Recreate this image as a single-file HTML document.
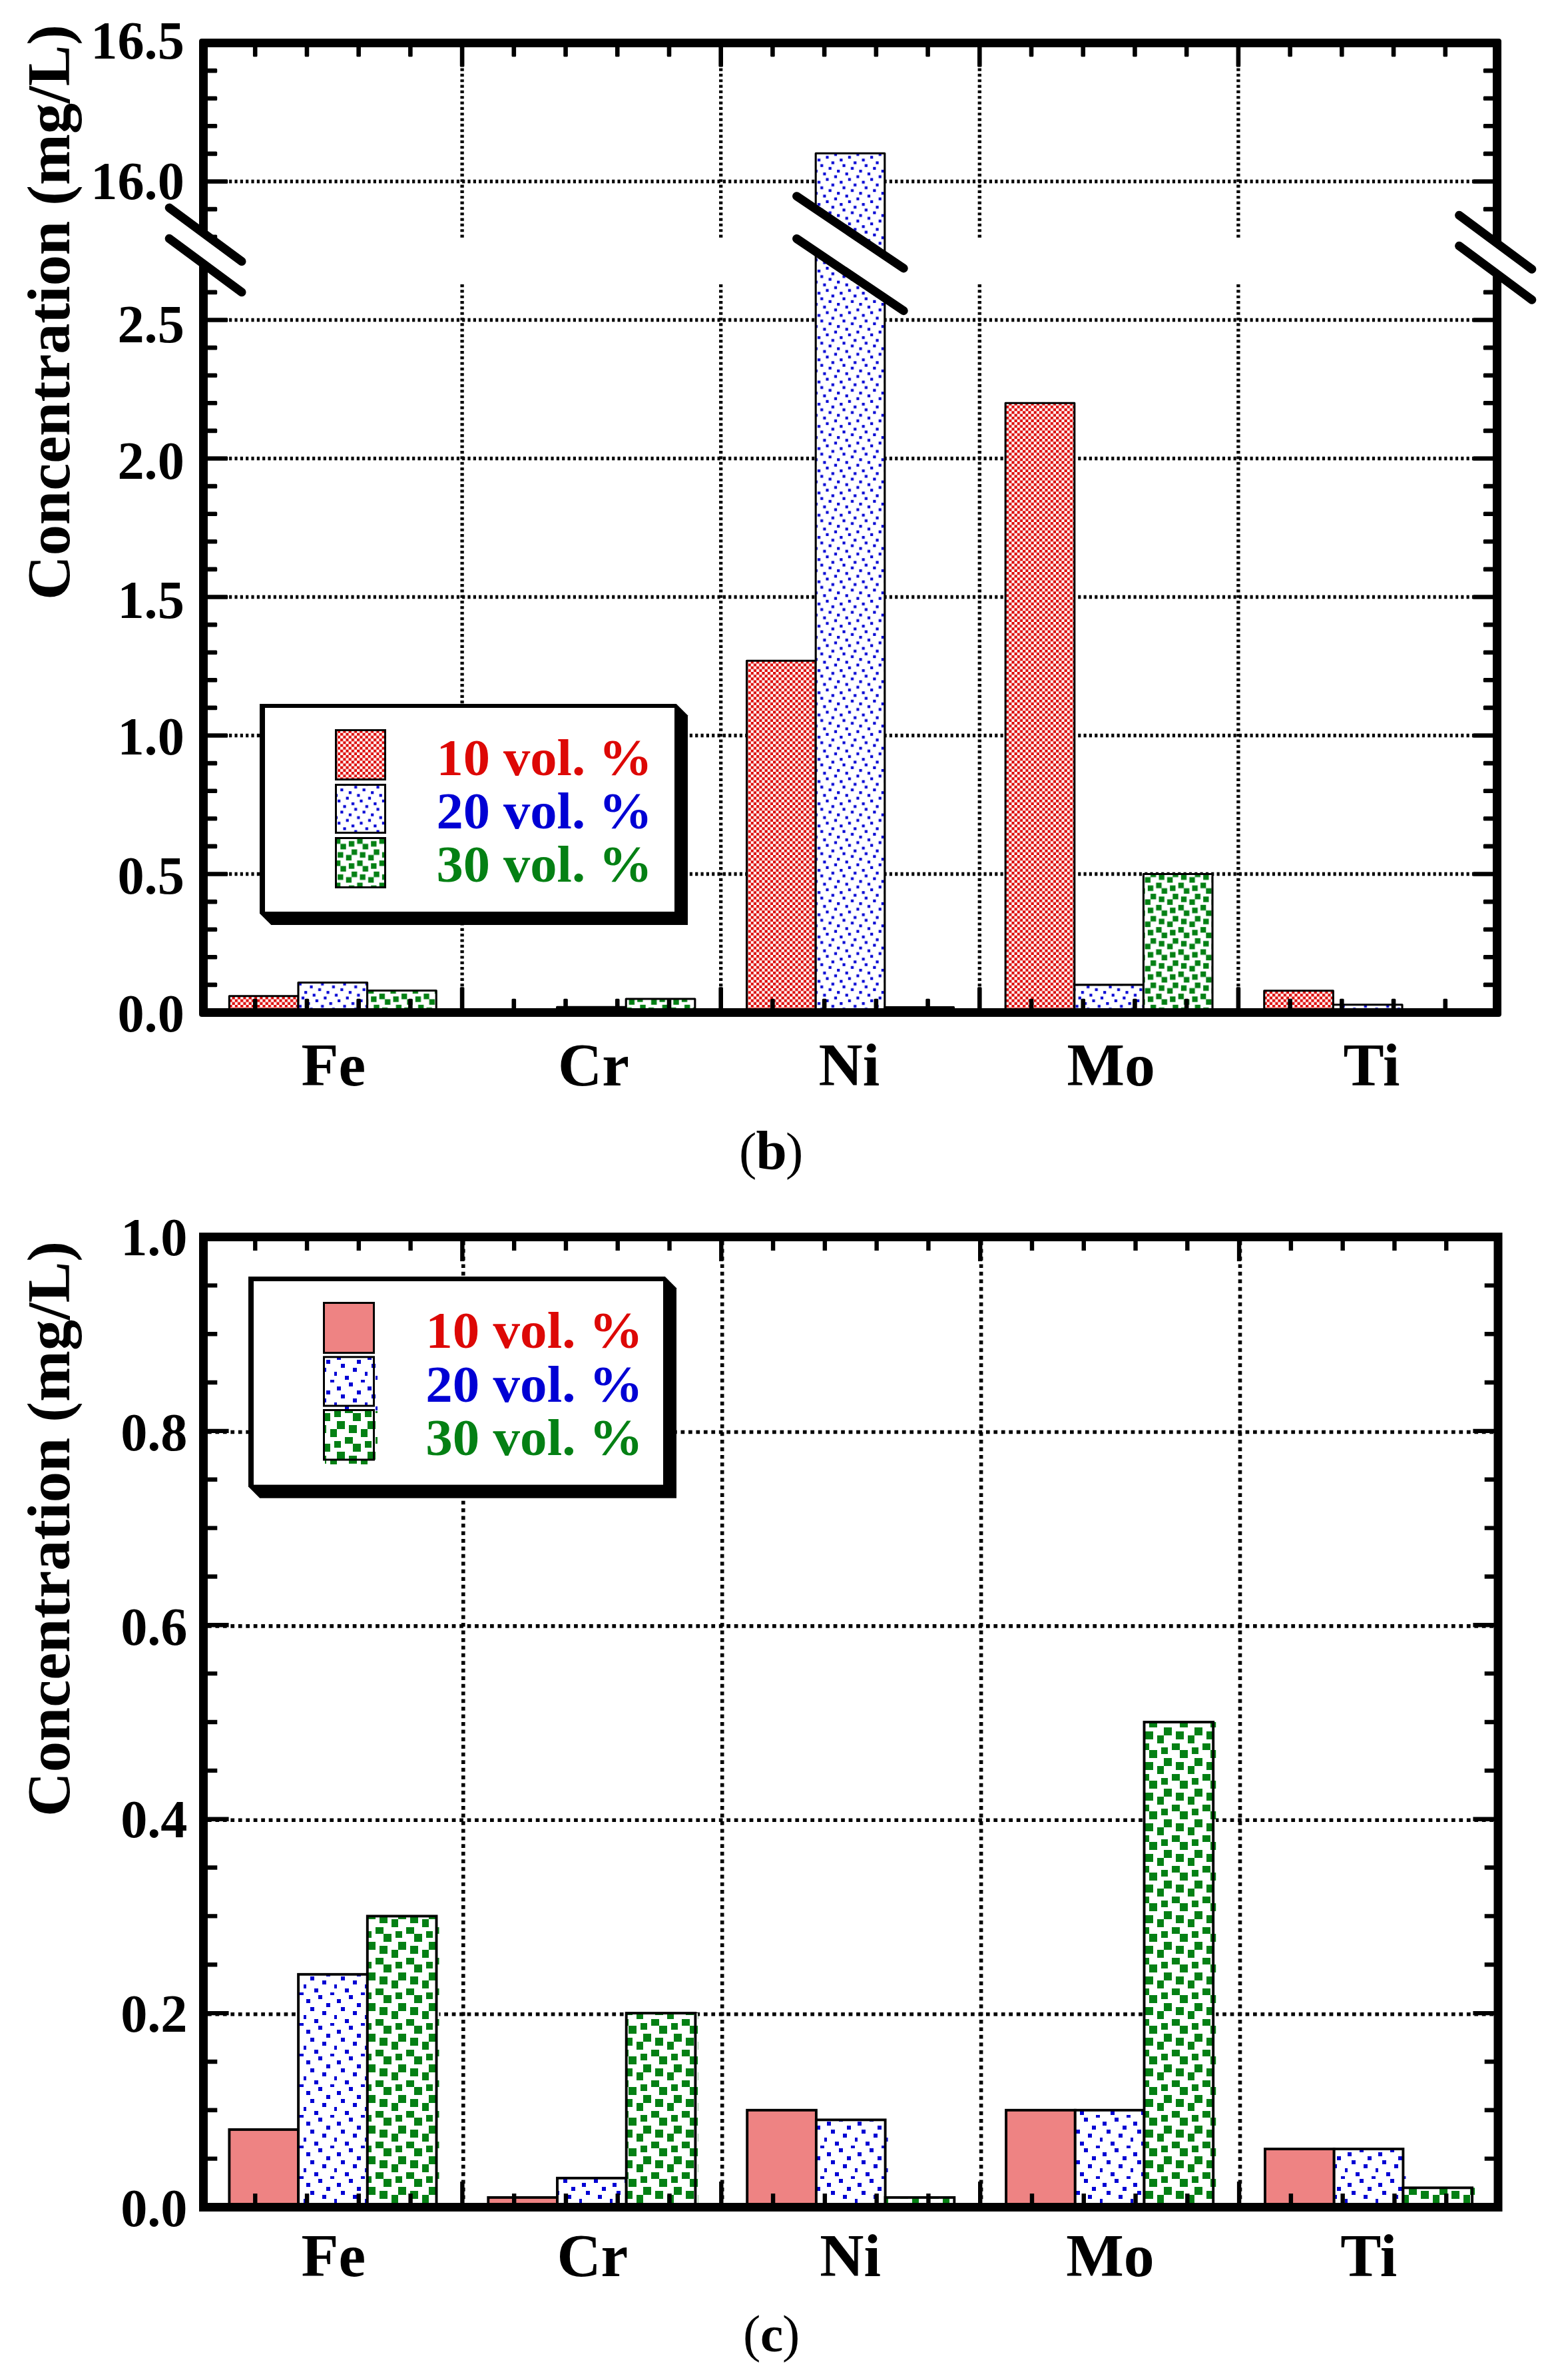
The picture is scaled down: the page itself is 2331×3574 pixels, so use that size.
<!DOCTYPE html>
<html lang="en"><head><meta charset="utf-8"><title>Concentration charts (b) and (c)</title>
<style>
html,body{margin:0;padding:0;background:#fff}
svg{display:block}
text{font-family:"Liberation Serif","DejaVu Serif",serif;font-weight:bold}
text.cap{font-weight:normal}
text.cap tspan{font-weight:bold}
text.cap tspan.p{font-weight:normal}
</style></head>
<body>
<svg width="2331" height="3574" viewBox="0 0 2331 3574">
<rect width="2331" height="3574" fill="#fff"/>
<defs>
<pattern id="pr" patternUnits="userSpaceOnUse" width="8.333" height="8.333" x="2.8" y="0.7"><rect width="8.333" height="8.333" fill="#fff"/><rect width="4.167" height="4.167" fill="#DD0806"/><rect x="4.167" y="4.167" width="4.167" height="4.167" fill="#DD0806"/></pattern>
<pattern id="pb" patternUnits="userSpaceOnUse" width="33.333" height="33.333" x="23.8" y="4.9"><rect width="33.333" height="33.333" fill="#fff"/><rect x="4.167" y="0" width="4.167" height="4.167" fill="#0000D4"/><rect x="25" y="4.167" width="4.167" height="4.167" fill="#0000D4"/><rect x="8.333" y="8.333" width="4.167" height="4.167" fill="#0000D4"/><rect x="20.833" y="12.5" width="4.167" height="4.167" fill="#0000D4"/><rect x="0" y="16.667" width="4.167" height="4.167" fill="#0000D4"/><rect x="12.5" y="20.833" width="4.167" height="4.167" fill="#0000D4"/><rect x="29.167" y="25" width="4.167" height="4.167" fill="#0000D4"/><rect x="16.667" y="29.167" width="4.167" height="4.167" fill="#0000D4"/></pattern>
<pattern id="pg" patternUnits="userSpaceOnUse" width="33.333" height="33.333" x="7.2" y="25.5"><rect width="33.333" height="33.333" fill="#fff"/><rect x="0" y="20.833" width="8.333" height="8.333" fill="#048014"/><rect x="4.167" y="8.333" width="8.333" height="8.333" fill="#048014"/><rect x="12.5" y="25" width="8.333" height="8.333" fill="#048014"/><rect x="16.667" y="4.167" width="8.333" height="8.333" fill="#048014"/><rect x="20.833" y="16.667" width="8.333" height="8.333" fill="#048014"/><rect x="29.167" y="0" width="8.333" height="8.333" fill="#048014"/><rect x="-4.167" y="0" width="8.333" height="8.333" fill="#048014"/></pattern>
<pattern id="qb" patternUnits="userSpaceOnUse" width="46" height="46" x="0" y="-4"><rect width="46" height="46" fill="#fff"/><rect x="12" y="0" width="6" height="6" fill="#0000D4"/><rect x="36" y="6" width="6" height="4" fill="#0000D4"/><rect x="18" y="10" width="6" height="6" fill="#0000D4"/><rect x="0" y="16" width="6" height="6" fill="#0000D4"/><rect x="30" y="22" width="6" height="6" fill="#0000D4"/><rect x="6" y="28" width="6" height="6" fill="#0000D4"/><rect x="24" y="34" width="6" height="6" fill="#0000D4"/><rect x="42" y="40" width="4" height="6" fill="#0000D4"/></pattern>
<pattern id="qg" patternUnits="userSpaceOnUse" width="46" height="46" x="0" y="-4"><rect width="46" height="46" fill="#fff"/><rect x="12" y="0" width="6" height="6" fill="#048014"/><rect x="12" y="6" width="6" height="4" fill="#048014"/><rect x="18" y="0" width="6" height="6" fill="#048014"/><rect x="18" y="6" width="6" height="4" fill="#048014"/><rect x="42" y="6" width="4" height="4" fill="#048014"/><rect x="42" y="10" width="4" height="6" fill="#048014"/><rect x="0" y="6" width="6" height="4" fill="#048014"/><rect x="0" y="10" width="6" height="6" fill="#048014"/><rect x="24" y="10" width="6" height="6" fill="#048014"/><rect x="24" y="16" width="6" height="6" fill="#048014"/><rect x="30" y="10" width="6" height="6" fill="#048014"/><rect x="30" y="16" width="6" height="6" fill="#048014"/><rect x="0" y="22" width="6" height="6" fill="#048014"/><rect x="0" y="28" width="6" height="6" fill="#048014"/><rect x="6" y="22" width="6" height="6" fill="#048014"/><rect x="6" y="28" width="6" height="6" fill="#048014"/><rect x="18" y="28" width="6" height="6" fill="#048014"/><rect x="18" y="34" width="6" height="6" fill="#048014"/><rect x="24" y="28" width="6" height="6" fill="#048014"/><rect x="24" y="34" width="6" height="6" fill="#048014"/><rect x="36" y="34" width="6" height="6" fill="#048014"/><rect x="36" y="40" width="6" height="6" fill="#048014"/><rect x="42" y="34" width="4" height="6" fill="#048014"/><rect x="42" y="40" width="4" height="6" fill="#048014"/></pattern>
</defs>
<g id="chart-b">
<g stroke="#000" stroke-width="5.3" stroke-dasharray="4.167 4.167" fill="none">
<path d="M344.1 272.5H2212"/>
<path d="M344.1 480.5H2212"/>
<path d="M344.1 688.5H2212"/>
<path d="M344.1 896.5H2212"/>
<path d="M344.1 1104.5H2212"/>
<path d="M344.1 1312.5H2212"/>
<path d="M694.1 102.5V357"/><path d="M694.1 427V1484"/>
<path d="M1082.7 102.5V357"/><path d="M1082.7 427V1484"/>
<path d="M1471.3 102.5V357"/><path d="M1471.3 427V1484"/>
<path d="M1859.9 102.5V357"/><path d="M1859.9 427V1484"/>
</g>
<g stroke="#000" stroke-width="3.1" stroke-linejoin="round">
<rect x="344.36" y="1495.7" width="103.627" height="24.8" fill="url(#pr)"/>
<rect x="447.987" y="1475.5" width="103.627" height="45" fill="url(#pb)"/>
<rect x="551.613" y="1487.5" width="103.627" height="33" fill="url(#pg)"/>
<rect x="836.587" y="1512.4" width="103.627" height="8.1" fill="url(#pb)"/>
<rect x="940.213" y="1500" width="103.627" height="20.5" fill="url(#pg)"/>
<rect x="1121.56" y="992.18" width="103.627" height="528.32" fill="url(#pr)"/>
<rect x="1225.187" y="230.3" width="103.627" height="1290.2" fill="url(#pb)"/>
<rect x="1328.813" y="1512.5" width="103.627" height="8" fill="url(#pg)"/>
<rect x="1510.16" y="605.3" width="103.627" height="915.2" fill="url(#pr)"/>
<rect x="1613.787" y="1478.9" width="103.627" height="41.6" fill="url(#pb)"/>
<rect x="1717.413" y="1312.5" width="103.627" height="208" fill="url(#pg)"/>
<rect x="1898.76" y="1487.8" width="103.627" height="32.7" fill="url(#pr)"/>
<rect x="2002.387" y="1508.8" width="103.627" height="11.7" fill="url(#pb)"/>
</g>
<path fill="#000" fill-rule="evenodd" d="M303 58H2251A4 4 0 0 1 2255 62V1523A4 4 0 0 1 2251 1527H303A4 4 0 0 1 299 1523V62A4 4 0 0 1 303 58ZM312 71H2242V1514H312Z"/>
<path d="M381.42 70.5H385.02V83.7H381.42ZM381.42 1501.3H385.02V1514.5H381.42ZM459.14 70.5H462.74V83.7H459.14ZM459.14 1501.3H462.74V1514.5H459.14ZM536.86 70.5H540.46V83.7H536.86ZM536.86 1501.3H540.46V1514.5H536.86ZM614.58 70.5H618.18V83.7H614.58ZM614.58 1501.3H618.18V1514.5H614.58ZM692.3 70.5H695.9V99.1H692.3ZM692.3 1483.7H695.9V1514.5H692.3ZM770.02 70.5H773.62V83.7H770.02ZM770.02 1501.3H773.62V1514.5H770.02ZM847.74 70.5H851.34V83.7H847.74ZM847.74 1501.3H851.34V1514.5H847.74ZM925.46 70.5H929.06V83.7H925.46ZM925.46 1501.3H929.06V1514.5H925.46ZM1003.18 70.5H1006.78V83.7H1003.18ZM1003.18 1501.3H1006.78V1514.5H1003.18ZM1080.9 70.5H1084.5V99.1H1080.9ZM1080.9 1483.7H1084.5V1514.5H1080.9ZM1158.62 70.5H1162.22V83.7H1158.62ZM1158.62 1501.3H1162.22V1514.5H1158.62ZM1236.34 70.5H1239.94V83.7H1236.34ZM1236.34 1501.3H1239.94V1514.5H1236.34ZM1314.06 70.5H1317.66V83.7H1314.06ZM1314.06 1501.3H1317.66V1514.5H1314.06ZM1391.78 70.5H1395.38V83.7H1391.78ZM1391.78 1501.3H1395.38V1514.5H1391.78ZM1469.5 70.5H1473.1V99.1H1469.5ZM1469.5 1483.7H1473.1V1514.5H1469.5ZM1547.22 70.5H1550.82V83.7H1547.22ZM1547.22 1501.3H1550.82V1514.5H1547.22ZM1624.94 70.5H1628.54V83.7H1624.94ZM1624.94 1501.3H1628.54V1514.5H1624.94ZM1702.66 70.5H1706.26V83.7H1702.66ZM1702.66 1501.3H1706.26V1514.5H1702.66ZM1780.38 70.5H1783.98V83.7H1780.38ZM1780.38 1501.3H1783.98V1514.5H1780.38ZM1858.1 70.5H1861.7V99.1H1858.1ZM1858.1 1483.7H1861.7V1514.5H1858.1ZM1935.82 70.5H1939.42V83.7H1935.82ZM1935.82 1501.3H1939.42V1514.5H1935.82ZM2013.54 70.5H2017.14V83.7H2013.54ZM2013.54 1501.3H2017.14V1514.5H2013.54ZM2091.26 70.5H2094.86V83.7H2091.26ZM2091.26 1501.3H2094.86V1514.5H2091.26ZM2168.98 70.5H2172.58V83.7H2168.98ZM2168.98 1501.3H2172.58V1514.5H2168.98ZM311.5 104.3H324.7V107.9H311.5ZM2229.3 104.3H2242.5V107.9H2229.3ZM311.5 145.9H324.7V149.5H311.5ZM2229.3 145.9H2242.5V149.5H2229.3ZM311.5 187.5H324.7V191.1H311.5ZM2229.3 187.5H2242.5V191.1H2229.3ZM311.5 229.1H324.7V232.7H311.5ZM2229.3 229.1H2242.5V232.7H2229.3ZM311.5 270.7H340.7V274.3H311.5ZM2213.3 270.7H2242.5V274.3H2213.3ZM311.5 312.3H324.7V315.9H311.5ZM2229.3 312.3H2242.5V315.9H2229.3ZM311.5 353.9H324.7V357.5H311.5ZM2229.3 353.9H2242.5V357.5H2229.3ZM311.5 395.5H324.7V399.1H311.5ZM2229.3 395.5H2242.5V399.1H2229.3ZM311.5 437.1H324.7V440.7H311.5ZM2229.3 437.1H2242.5V440.7H2229.3ZM311.5 478.7H340.7V482.3H311.5ZM2213.3 478.7H2242.5V482.3H2213.3ZM311.5 520.3H324.7V523.9H311.5ZM2229.3 520.3H2242.5V523.9H2229.3ZM311.5 561.9H324.7V565.5H311.5ZM2229.3 561.9H2242.5V565.5H2229.3ZM311.5 603.5H324.7V607.1H311.5ZM2229.3 603.5H2242.5V607.1H2229.3ZM311.5 645.1H324.7V648.7H311.5ZM2229.3 645.1H2242.5V648.7H2229.3ZM311.5 686.7H340.7V690.3H311.5ZM2213.3 686.7H2242.5V690.3H2213.3ZM311.5 728.3H324.7V731.9H311.5ZM2229.3 728.3H2242.5V731.9H2229.3ZM311.5 769.9H324.7V773.5H311.5ZM2229.3 769.9H2242.5V773.5H2229.3ZM311.5 811.5H324.7V815.1H311.5ZM2229.3 811.5H2242.5V815.1H2229.3ZM311.5 853.1H324.7V856.7H311.5ZM2229.3 853.1H2242.5V856.7H2229.3ZM311.5 894.7H340.7V898.3H311.5ZM2213.3 894.7H2242.5V898.3H2213.3ZM311.5 936.3H324.7V939.9H311.5ZM2229.3 936.3H2242.5V939.9H2229.3ZM311.5 977.9H324.7V981.5H311.5ZM2229.3 977.9H2242.5V981.5H2229.3ZM311.5 1019.5H324.7V1023.1H311.5ZM2229.3 1019.5H2242.5V1023.1H2229.3ZM311.5 1061.1H324.7V1064.7H311.5ZM2229.3 1061.1H2242.5V1064.7H2229.3ZM311.5 1102.7H340.7V1106.3H311.5ZM2213.3 1102.7H2242.5V1106.3H2213.3ZM311.5 1144.3H324.7V1147.9H311.5ZM2229.3 1144.3H2242.5V1147.9H2229.3ZM311.5 1185.9H324.7V1189.5H311.5ZM2229.3 1185.9H2242.5V1189.5H2229.3ZM311.5 1227.5H324.7V1231.1H311.5ZM2229.3 1227.5H2242.5V1231.1H2229.3ZM311.5 1269.1H324.7V1272.7H311.5ZM2229.3 1269.1H2242.5V1272.7H2229.3ZM311.5 1310.7H340.7V1314.3H311.5ZM2213.3 1310.7H2242.5V1314.3H2213.3ZM311.5 1352.3H324.7V1355.9H311.5ZM2229.3 1352.3H2242.5V1355.9H2229.3ZM311.5 1393.9H324.7V1397.5H311.5ZM2229.3 1393.9H2242.5V1397.5H2229.3ZM311.5 1435.5H324.7V1439.1H311.5ZM2229.3 1435.5H2242.5V1439.1H2229.3ZM311.5 1477.1H324.7V1480.7H311.5ZM2229.3 1477.1H2242.5V1480.7H2229.3Z" fill="#000" stroke="#000" stroke-width="3" stroke-linejoin="round"/>
<polygon points="254.2,312.1 363,392.6 363,438.8 254.2,358.3" fill="#fff"/>
<path d="M254.2 312.1L363 392.6M254.2 358.3L363 438.8" stroke="#000" stroke-width="13" stroke-linecap="round" fill="none"/>
<polygon points="1196.6,294.7 1357.2,402.9 1357.2,466.7 1196.6,358.5" fill="#fff"/>
<path d="M1196.6 294.7L1357.2 402.9M1196.6 358.5L1357.2 466.7" stroke="#000" stroke-width="13" stroke-linecap="round" fill="none"/>
<polygon points="2191.6,323.3 2300.8,404.2 2300.8,450.2 2191.6,369.3" fill="#fff"/>
<path d="M2191.6 323.3L2300.8 404.2M2191.6 369.3L2300.8 450.2" stroke="#000" stroke-width="13" stroke-linecap="round" fill="none"/>
<polygon points="390,1057 1015.7,1057 1033.0,1074.3 1033.0,1389.1 407.3,1389.1 390,1371.8" fill="#000"/>
<rect x="398" y="1063" width="615" height="306" fill="#fff"/>
<g stroke="#000" stroke-width="3">
<rect x="504.5" y="1096.5" width="74" height="74" fill="url(#pr)"/>
<rect x="504.5" y="1178.5" width="74" height="72" fill="url(#pb)"/>
<rect x="504.5" y="1258.5" width="74" height="74" fill="url(#pg)"/>
</g>
<text x="655.4" y="1163.5" font-size="79.17" fill="#DD0806" text-anchor="start" textLength="324.3" lengthAdjust="spacingAndGlyphs">10 vol. %</text>
<text x="655.4" y="1243.5" font-size="79.17" fill="#0000D4" text-anchor="start" textLength="324.3" lengthAdjust="spacingAndGlyphs">20 vol. %</text>
<text x="655.4" y="1323.6" font-size="79.17" fill="#048014" text-anchor="start" textLength="324.3" lengthAdjust="spacingAndGlyphs">30 vol. %</text>
<text x="276.8" y="87.6" font-size="80.3" fill="#000" text-anchor="end" >16.5</text>
<text x="276.8" y="299" font-size="80.3" fill="#000" text-anchor="end" >16.0</text>
<text x="276.8" y="513.5" font-size="80.3" fill="#000" text-anchor="end" >2.5</text>
<text x="276.8" y="719.2" font-size="80.3" fill="#000" text-anchor="end" >2.0</text>
<text x="276.8" y="927.5" font-size="80.3" fill="#000" text-anchor="end" >1.5</text>
<text x="276.8" y="1133.2" font-size="80.3" fill="#000" text-anchor="end" >1.0</text>
<text x="276.8" y="1341.7" font-size="80.3" fill="#000" text-anchor="end" >0.5</text>
<text x="276.8" y="1549.2" font-size="80.3" fill="#000" text-anchor="end" >0.0</text>
<text x="452.5" y="1630" font-size="91.67" fill="#000" text-anchor="start" >Fe</text>
<text x="838" y="1630" font-size="91.67" fill="#000" text-anchor="start" >Cr</text>
<text x="1229.5" y="1630" font-size="91.67" fill="#000" text-anchor="start" >Ni</text>
<text x="1602.5" y="1630" font-size="91.67" fill="#000" text-anchor="start" >Mo</text>
<text x="2017.5" y="1630" font-size="91.67" fill="#000" text-anchor="start" >Ti</text>
<text transform="translate(104.1 901) rotate(-90)" font-size="91.67" textLength="864" lengthAdjust="spacingAndGlyphs">Concentration (mg/L)</text>
<text y="1754.7" font-size="79" class="cap"><tspan class="p" x="1110">(</tspan><tspan x="1135.5" y="1755" font-size="83.3">b</tspan><tspan class="p" x="1180" y="1754.7">)</tspan></text>
</g>
<g id="chart-c">
<g stroke="#000" stroke-width="5.6" stroke-dasharray="5.73 5.73" fill="none">
<path d="M312 2150.5H2244"/>
<path d="M312 2441.9H2244"/>
<path d="M312 2733.3H2244"/>
<path d="M312 3024.7H2244"/>
<path d="M695.8 1864V3308"/>
<path d="M1084.7 1864V3308"/>
<path d="M1473.6 1864V3308"/>
<path d="M1862.5 1864V3308"/>
</g>
<rect x="344.39" y="3197.94" width="103.707" height="116.56" fill="#EE8383" stroke="#000" stroke-width="3.9"/>
<rect x="448.097" y="2964.82" width="107.707" height="349.68" fill="url(#qb)"/>
<rect x="448.097" y="2964.82" width="103.707" height="349.68" fill="none" stroke="#000" stroke-width="3.9"/>
<rect x="551.803" y="2877.4" width="107.707" height="437.1" fill="url(#qg)"/>
<rect x="551.803" y="2877.4" width="103.707" height="437.1" fill="none" stroke="#000" stroke-width="3.9"/>
<rect x="733.29" y="3299.93" width="103.707" height="14.57" fill="#EE8383" stroke="#000" stroke-width="3.9"/>
<rect x="836.997" y="3270.79" width="107.707" height="43.71" fill="url(#qb)"/>
<rect x="836.997" y="3270.79" width="103.707" height="43.71" fill="none" stroke="#000" stroke-width="3.9"/>
<rect x="940.703" y="3023.1" width="107.707" height="291.4" fill="url(#qg)"/>
<rect x="940.703" y="3023.1" width="103.707" height="291.4" fill="none" stroke="#000" stroke-width="3.9"/>
<rect x="1122.19" y="3168.8" width="103.707" height="145.7" fill="#EE8383" stroke="#000" stroke-width="3.9"/>
<rect x="1225.897" y="3183.37" width="107.707" height="131.13" fill="url(#qb)"/>
<rect x="1225.897" y="3183.37" width="103.707" height="131.13" fill="none" stroke="#000" stroke-width="3.9"/>
<rect x="1329.603" y="3299.93" width="107.707" height="14.57" fill="url(#qg)"/>
<rect x="1329.603" y="3299.93" width="103.707" height="14.57" fill="none" stroke="#000" stroke-width="3.9"/>
<rect x="1511.09" y="3168.8" width="103.707" height="145.7" fill="#EE8383" stroke="#000" stroke-width="3.9"/>
<rect x="1614.797" y="3168.8" width="107.707" height="145.7" fill="url(#qb)"/>
<rect x="1614.797" y="3168.8" width="103.707" height="145.7" fill="none" stroke="#000" stroke-width="3.9"/>
<rect x="1718.503" y="2586" width="107.707" height="728.5" fill="url(#qg)"/>
<rect x="1718.503" y="2586" width="103.707" height="728.5" fill="none" stroke="#000" stroke-width="3.9"/>
<rect x="1899.99" y="3227.08" width="103.707" height="87.42" fill="#EE8383" stroke="#000" stroke-width="3.9"/>
<rect x="2003.697" y="3227.08" width="107.707" height="87.42" fill="url(#qb)"/>
<rect x="2003.697" y="3227.08" width="103.707" height="87.42" fill="none" stroke="#000" stroke-width="3.9"/>
<rect x="2107.403" y="3285.36" width="107.707" height="29.14" fill="url(#qg)"/>
<rect x="2107.403" y="3285.36" width="103.707" height="29.14" fill="none" stroke="#000" stroke-width="3.9"/>
<g stroke="#000" fill="none">
<path d="M305.5 1857.5H2250V3314.5H305.5Z" stroke-width="13"/>
<path d="M383.28 1864v14M383.28 3308v-14M461.06 1864v14M461.06 3308v-14M538.84 1864v14M538.84 3308v-14M616.62 1864v14M616.62 3308v-14M694.4 1864v30M694.4 3308v-32M772.18 1864v14M772.18 3308v-14M849.96 1864v14M849.96 3308v-14M927.74 1864v14M927.74 3308v-14M1005.52 1864v14M1005.52 3308v-14M1083.3 1864v30M1083.3 3308v-32M1161.08 1864v14M1161.08 3308v-14M1238.86 1864v14M1238.86 3308v-14M1316.64 1864v14M1316.64 3308v-14M1394.42 1864v14M1394.42 3308v-14M1472.2 1864v30M1472.2 3308v-32M1549.98 1864v14M1549.98 3308v-14M1627.76 1864v14M1627.76 3308v-14M1705.54 1864v14M1705.54 3308v-14M1783.32 1864v14M1783.32 3308v-14M1861.1 1864v30M1861.1 3308v-32M1938.88 1864v14M1938.88 3308v-14M2016.66 1864v14M2016.66 3308v-14M2094.44 1864v14M2094.44 3308v-14M2172.22 1864v14M2172.22 3308v-14M312 1930.35h14.3M2244 1930.35h-14.3M312 2003.2h14.3M2244 2003.2h-14.3M312 2076.05h14.3M2244 2076.05h-14.3M312 2148.9h31.6M2244 2148.9h-31.6M312 2221.75h14.3M2244 2221.75h-14.3M312 2294.6h14.3M2244 2294.6h-14.3M312 2367.45h14.3M2244 2367.45h-14.3M312 2440.3h31.6M2244 2440.3h-31.6M312 2513.15h14.3M2244 2513.15h-14.3M312 2586h14.3M2244 2586h-14.3M312 2658.85h14.3M2244 2658.85h-14.3M312 2731.7h31.6M2244 2731.7h-31.6M312 2804.55h14.3M2244 2804.55h-14.3M312 2877.4h14.3M2244 2877.4h-14.3M312 2950.25h14.3M2244 2950.25h-14.3M312 3023.1h31.6M2244 3023.1h-31.6M312 3095.95h14.3M2244 3095.95h-14.3M312 3168.8h14.3M2244 3168.8h-14.3M312 3241.65h14.3M2244 3241.65h-14.3" stroke-width="6.4"/>
</g>
<polygon points="373,1917 998.8,1917 1016.0,1934.2 1016.0,2249.7 390.2,2249.7 373,2232.5" fill="#000"/>
<rect x="381" y="1924" width="615" height="305.5999999999999" fill="#fff"/>
<rect x="486.5" y="1956.5" width="75" height="75" fill="#EE8383" stroke="#000" stroke-width="3"/>
<rect x="488" y="2039" width="79" height="79" fill="url(#qb)"/>
<rect x="486.5" y="2037.8" width="75" height="73.3" fill="none" stroke="#000" stroke-width="3"/>
<rect x="488" y="2119" width="79" height="80" fill="url(#qg)"/>
<rect x="486.5" y="2117.5" width="75" height="74.5" fill="none" stroke="#000" stroke-width="3"/>
<text x="639.3" y="2023.5" font-size="79.17" fill="#DD0806" text-anchor="start" textLength="326.4" lengthAdjust="spacingAndGlyphs">10 vol. %</text>
<text x="639.3" y="2105.4" font-size="79.17" fill="#0000D4" text-anchor="start" textLength="326.4" lengthAdjust="spacingAndGlyphs">20 vol. %</text>
<text x="639.3" y="2185.4" font-size="79.17" fill="#048014" text-anchor="start" textLength="326.4" lengthAdjust="spacingAndGlyphs">30 vol. %</text>
<text x="281.5" y="1885.3" font-size="80.3" fill="#000" text-anchor="end" >1.0</text>
<text x="281.5" y="2178.1" font-size="80.3" fill="#000" text-anchor="end" >0.8</text>
<text x="281.5" y="2469.9" font-size="80.3" fill="#000" text-anchor="end" >0.6</text>
<text x="281.5" y="2759.2" font-size="80.3" fill="#000" text-anchor="end" >0.4</text>
<text x="281.5" y="3051.3" font-size="80.3" fill="#000" text-anchor="end" >0.2</text>
<text x="281.5" y="3343.4" font-size="80.3" fill="#000" text-anchor="end" >0.0</text>
<text x="452.5" y="3418" font-size="91.67" fill="#000" text-anchor="start" >Fe</text>
<text x="836.4" y="3418" font-size="91.67" fill="#000" text-anchor="start" >Cr</text>
<text x="1231.2" y="3418" font-size="91.67" fill="#000" text-anchor="start" >Ni</text>
<text x="1601.2" y="3418" font-size="91.67" fill="#000" text-anchor="start" >Mo</text>
<text x="2013.3" y="3418" font-size="91.67" fill="#000" text-anchor="start" >Ti</text>
<text transform="translate(104.1 2728) rotate(-90)" font-size="91.67" textLength="864" lengthAdjust="spacingAndGlyphs">Concentration (mg/L)</text>
<text y="3530.9" font-size="79" class="cap"><tspan class="p" x="1116">(</tspan><tspan x="1142" y="3530.7" font-size="77">c</tspan><tspan class="p" x="1175" y="3530.9">)</tspan></text>
</g>
</svg>
</body></html>
